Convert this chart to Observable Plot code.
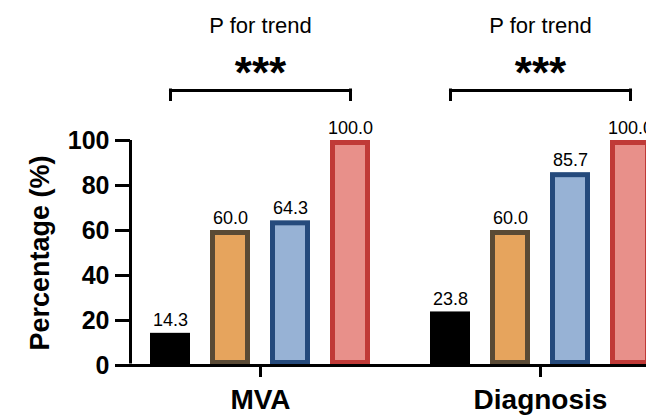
<!DOCTYPE html>
<html>
<head>
<meta charset="utf-8">
<script src="https://cdn.jsdelivr.net/npm/d3@7"></script>
<script src="https://cdn.jsdelivr.net/npm/@observablehq/plot@0.6"></script>
<style>
  html, body { margin: 0; padding: 0; background: #fff; overflow: hidden; }
  #chart { width: 646px; height: 416px; overflow: hidden; }
</style>
</head>
<body>
<div id="chart"></div>
<script>
const groups = ["MVA", "Diagnosis"];
const levels = ["Level 1", "Level 2", "Level 3", "Level 4"];
const mvaValues = [14.3, 60.0, 64.3, 100.0];
const diagnosisValues = [23.8, 60.0, 85.7, 100.0];
const fillColors = ["#000000", "#E6A45D", "#97B2D5", "#E8908A"];
const strokeColors = ["#000000", "#5A4A35", "#254A7C", "#C03A37"];
const trendLabels = ["P for trend", "P for trend"];
const significance = ["***", "***"];
const yTicks = [0, 20, 40, 60, 80, 100];
const yLabel = "Percentage (%)";

const seriesByGroup = [mvaValues, diagnosisValues];
const data = groups.flatMap((g, gi) => levels.map((l, li) => ({
  group: g, level: l, value: seriesByGroup[gi][li],
  fill: fillColors[li], stroke: strokeColors[li]
})));
const groupRows = groups.map((g, i) => ({group: g, trend: trendLabels[i], sig: significance[i]}));
const bracketEnds = groups.flatMap(g => [{group: g, level: levels[0]}, {group: g, level: levels[levels.length - 1]}]);

const font = "'Liberation Sans', Arial, Helvetica, sans-serif";
const yMid = (yTicks[0] + yTicks[yTicks.length - 1]) / 2;

const chart = Plot.plot({
  width: 670,
  height: 416,
  marginLeft: 130,
  marginRight: 0,
  marginTop: 140,
  marginBottom: 51,
  style: {fontFamily: font, color: "#000", background: "#fff", overflow: "visible", maxWidth: "none"},
  fx: {domain: groups, paddingInner: 60 / 280, paddingOuter: 20 / 280, label: null},
  x: {domain: levels, paddingInner: 1 / 3, paddingOuter: 0, axis: null},
  y: {domain: [0, 100], axis: null},
  marks: [
    Plot.barY(data, {fx: "group", x: "level", y: "value", fill: "fill", stroke: "stroke",
      strokeWidth: 5, inset: 2.5}),
    Plot.text(data, {fx: "group", x: "level", y: "value", text: d => d.value.toFixed(1),
      lineAnchor: "bottom", dy: -7, fontSize: 18, fill: "#000"}),
    // baseline
    Plot.ruleY([groupRows[0]], {fx: "group", y: () => 0, insetLeft: -20, insetRight: -60, strokeWidth: 3}),
    Plot.ruleY([groupRows[1]], {fx: "group", y: () => 0, insetLeft: -60, insetRight: -40, strokeWidth: 3}),
    // y axis line
    Plot.ruleX([groupRows[0]], {fx: "group", x: () => levels[0], y1: () => 0, y2: () => 100, dx: -40, strokeWidth: 3, insetTop: -1.5}),
    Plot.axisY({ticks: yTicks, anchor: "left", tickSize: 15, tickPadding: 6, fontSize: 25,
      fontWeight: "bold", strokeWidth: 3, dx: -20, label: null}),
    Plot.text([groupRows[0]], {fx: "group", text: () => yLabel, frameAnchor: "left", y: () => yMid, rotate: -90,
      dx: -110, fontSize: 27, fontWeight: "bold", lineAnchor: "middle", textAnchor: "middle"}),
    Plot.axisFx({anchor: "bottom", tickSize: 12, tickPadding: 12, fontSize: 28, fontWeight: "bold",
      strokeWidth: 3, label: null}),
    // bracket
    Plot.line(bracketEnds, {fx: "group", x: "level", y: () => 100, z: "group", dy: -50, strokeWidth: 3}),
    Plot.ruleX(bracketEnds, {fx: "group", x: "level", y1: () => 100, y2: () => 100, dy: -50, insetBottom: -11, insetTop: -1.5, strokeWidth: 3}),
    Plot.text(groupRows, {fx: "group", text: "trend", frameAnchor: "top", lineAnchor: "middle", dy: -115, fontSize: 22}),
    Plot.text(groupRows, {fx: "group", text: "sig", frameAnchor: "top", lineAnchor: "middle", dy: -67, fontSize: 44, fontWeight: "bold"})
  ]
});
document.getElementById("chart").appendChild(chart);
</script>
</body>
</html>
